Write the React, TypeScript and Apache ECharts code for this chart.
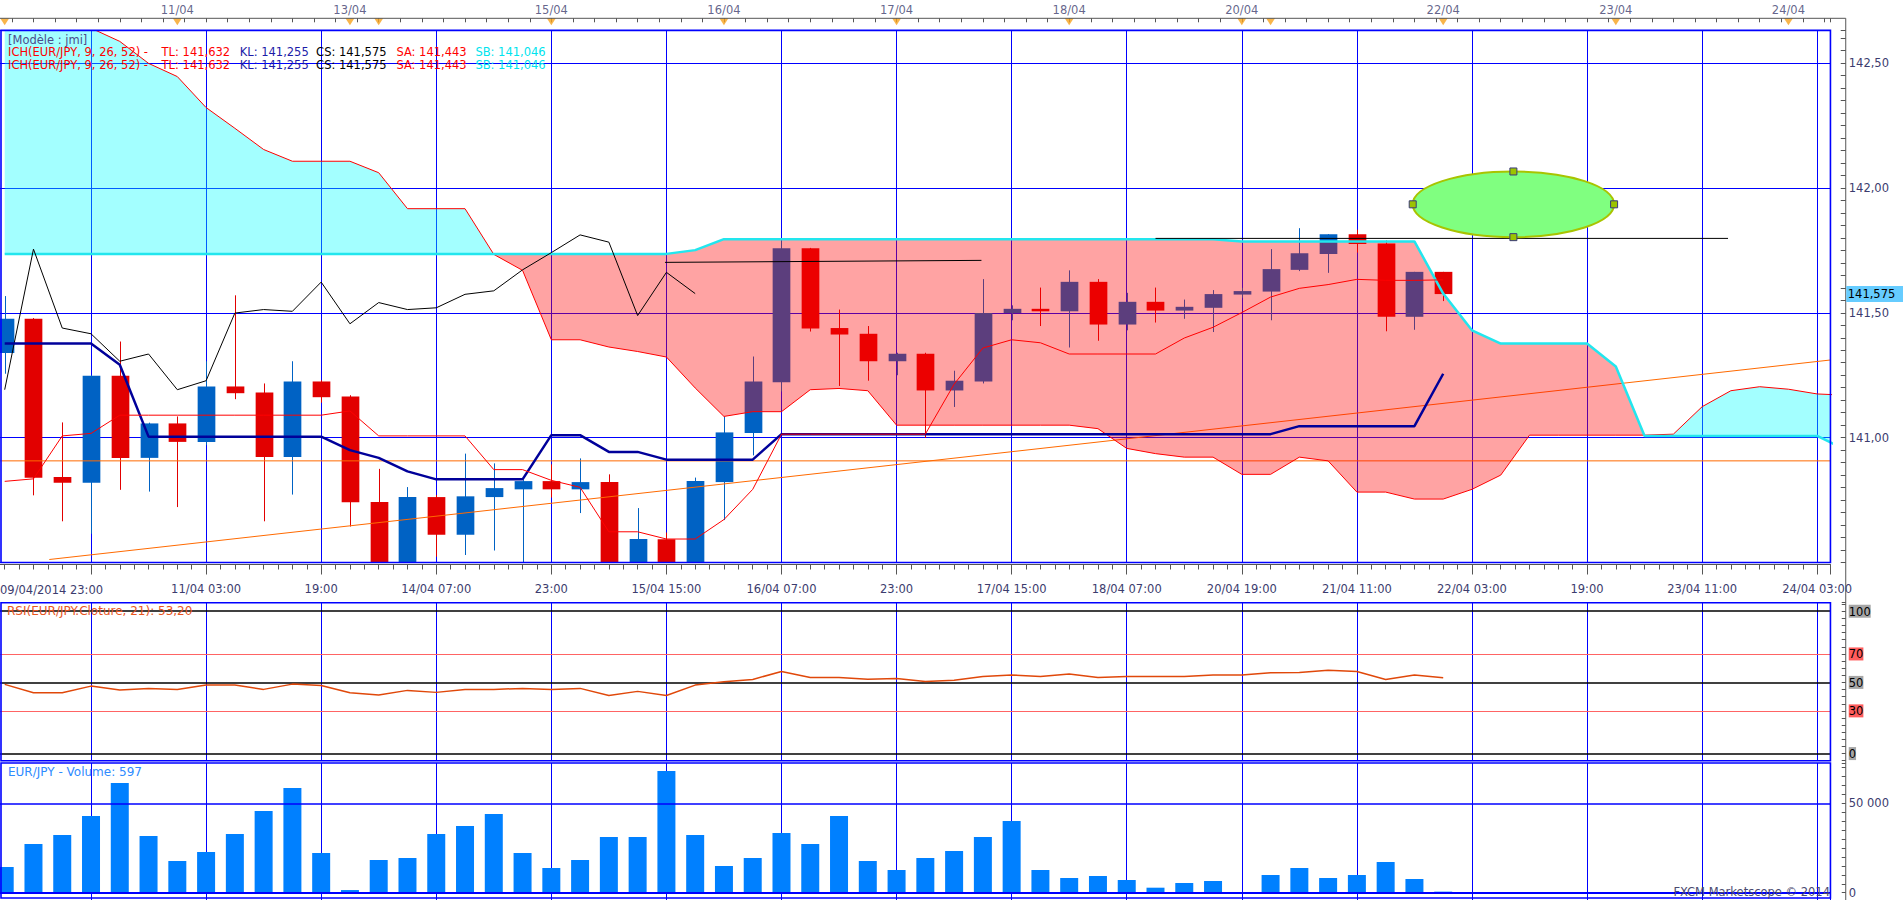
import { useEffect, useRef } from 'react';
import * as echarts from 'echarts';

// ---------------- data ----------------
const opens = [141.339, 141.476, 140.842, 140.819, 141.248, 140.919, 141.057, 140.983, 141.205, 141.181, 140.923, 141.225, 141.165, 140.742, 140.46, 140.762, 140.611, 140.762, 140.793, 140.826, 140.793, 140.822, 140.40, 140.593, 140.30, 140.822, 141.019, 141.222, 141.759, 141.439, 141.416, 141.306, 141.336, 141.189, 141.225, 141.499, 141.516, 141.506, 141.624, 141.453, 141.544, 141.509, 141.520, 141.573, 141.585, 141.672, 141.736, 141.815, 141.778, 141.484, 141.664];
const closes = [141.476, 140.839, 140.819, 141.248, 140.919, 141.057, 140.983, 141.205, 141.178, 140.923, 141.225, 141.162, 140.741, 140.46, 140.762, 140.611, 140.765, 140.798, 140.826, 140.793, 140.822, 140.40, 140.594, 140.30, 140.826, 141.021, 141.225, 141.759, 141.437, 141.413, 141.306, 141.336, 141.189, 141.228, 141.499, 141.516, 141.506, 141.624, 141.453, 141.544, 141.509, 141.524, 141.575, 141.587, 141.675, 141.739, 141.815, 141.776, 141.484, 141.664, 141.575];
const lows = [141.256, 140.769, 140.665, 140.615, 140.791, 140.784, 140.722, 140.970, 141.154, 140.665, 140.772, 141.140, 140.644, 140.40, 140.42, 140.523, 140.530, 140.548, 140.45, 140.760, 140.698, 140.35, 140.30, 140.24, 140.25, 140.670, 140.929, 141.185, 141.425, 141.207, 141.228, 141.250, 141.000, 141.123, 141.217, 141.470, 141.447, 141.361, 141.388, 141.430, 141.461, 141.476, 141.423, 141.560, 141.470, 141.667, 141.660, 141.741, 141.426, 141.432, 141.547];
const highs = [141.567, 141.479, 141.061, 141.250, 141.385, 141.060, 141.085, 141.306, 141.570, 141.217, 141.306, 141.230, 141.170, 140.875, 140.802, 140.770, 140.936, 140.897, 140.830, 140.893, 140.917, 140.853, 140.718, 140.620, 140.840, 141.085, 141.325, 141.790, 141.760, 141.513, 141.447, 141.340, 141.340, 141.268, 141.635, 141.530, 141.601, 141.670, 141.635, 141.580, 141.601, 141.553, 141.591, 141.600, 141.755, 141.839, 141.815, 141.833, 141.790, 141.664, 141.664];

const tenkan = [140.825, 140.835, 141.007, 141.017, 141.090, 141.090, 141.090, 141.090, 141.090, 141.090, 141.090, 141.090, 141.107, 141.007, 141.007, 141.007, 141.007, 140.872, 140.872, 140.829, 140.801, 140.623, 140.623, 140.594, 140.594, 140.672, 140.793, 141.014, 141.014, 141.014, 141.014, 141.014, 141.014, 141.214, 141.359, 141.392, 141.380, 141.335, 141.335, 141.335, 141.335, 141.399, 141.442, 141.501, 141.563, 141.598, 141.613, 141.634, 141.630, 141.630, 141.632];
const kijun = [141.377, 141.377, 141.377, 141.377, 141.292, 141.004, 141.004, 141.004, 141.004, 141.004, 141.004, 141.004, 140.950, 140.919, 140.865, 140.833, 140.833, 140.833, 140.833, 141.010, 141.010, 140.943, 140.943, 140.912, 140.912, 140.912, 140.912, 141.014, 141.014, 141.014, 141.014, 141.014, 141.014, 141.014, 141.014, 141.014, 141.014, 141.014, 141.014, 141.014, 141.014, 141.014, 141.014, 141.014, 141.014, 141.046, 141.046, 141.046, 141.046, 141.046, 141.256];
const chikou = [141.192, 141.755, 141.439, 141.416, 141.306, 141.335, 141.192, 141.228, 141.499, 141.513, 141.506, 141.623, 141.456, 141.541, 141.513, 141.520, 141.574, 141.588, 141.672, 141.741, 141.812, 141.783, 141.489, 141.662, 141.577];
const senkouA = [142.80, 142.75, 142.70, 142.64, 142.587, 142.499, 142.446, 142.322, 142.239, 142.154, 142.107, 142.107, 142.107, 142.061, 141.917, 141.917, 141.917, 141.734, 141.670, 141.392, 141.392, 141.363, 141.345, 141.323, 141.199, 141.085, 141.104, 141.104, 141.192, 141.197, 141.188, 141.050, 141.050, 141.050, 141.050, 141.050, 141.050, 141.050, 141.036, 140.957, 140.936, 140.922, 140.922, 140.853, 140.853, 140.922, 140.907, 140.782, 140.782, 140.754, 140.754, 140.793, 140.850, 141.010, 141.010, 141.010, 141.010, 141.010, 141.014, 141.124, 141.188, 141.204, 141.194, 141.175, 141.17];
const senkouB = [141.736, 141.736, 141.736, 141.736, 141.736, 141.736, 141.736, 141.736, 141.736, 141.736, 141.736, 141.736, 141.736, 141.736, 141.736, 141.736, 141.736, 141.736, 141.736, 141.736, 141.736, 141.736, 141.736, 141.736, 141.751, 141.795, 141.795, 141.795, 141.795, 141.795, 141.795, 141.795, 141.795, 141.795, 141.795, 141.795, 141.795, 141.795, 141.795, 141.795, 141.795, 141.795, 141.795, 141.786, 141.786, 141.786, 141.786, 141.786, 141.786, 141.786, 141.577, 141.430, 141.377, 141.377, 141.377, 141.377, 141.285, 141.007, 141.007, 141.007, 141.007, 141.007, 141.007, 141.007, 140.95];

const rsi = [48.6, 42.7, 42.7, 47.4, 44.6, 45.8, 45.1, 48.1, 48.1, 45.1, 48.8, 47.9, 42.7, 41.1, 44.4, 43.0, 45.1, 45.1, 45.8, 45.1, 45.8, 40.8, 43.7, 40.8, 48.1, 50.5, 52.1, 57.7, 53.5, 53.5, 52.3, 52.8, 50.7, 51.6, 54.2, 55.2, 54.2, 55.9, 53.5, 54.2, 54.2, 54.2, 55.2, 55.2, 56.8, 57.0, 58.5, 57.7, 52.1, 55.2, 53.2];
const rsiLevels = [100, 70, 50, 30, 0];
const volume = [14370, 27240, 32280, 42910, 61380, 31720, 17720, 22760, 32840, 45710, 58580, 22200, 1490, 18280, 19400, 32840, 37310, 44030, 22200, 13810, 18280, 31160, 31160, 68100, 32280, 14930, 19400, 33400, 27240, 42910, 17720, 12690, 19400, 23320, 31160, 40110, 12690, 8210, 9330, 7090, 2800, 5410, 6530, 370, 9890, 13810, 8210, 9890, 17160, 7650, 597];
const volumeLevels = [50000, 0];

const gridTicks = [3, 7, 11, 15, 19, 23, 27, 31, 35, 39, 43, 47, 51, 55, 59, 63];
const bottomLabels = ['', '11/04 03:00', '19:00', '14/04 07:00', '23:00', '15/04 15:00', '16/04 07:00', '23:00', '17/04 15:00', '18/04 07:00', '20/04 19:00', '21/04 11:00', '22/04 03:00', '19:00', '23/04 11:00', '24/04 03:00'];
const firstTimeLabel = '09/04/2014 23:00';
const dayMarks = [0, 6, 12, 13, 19, 25, 31, 37, 43, 44, 50, 56, 62];
const dayLabels = ['', '11/04', '13/04', '', '15/04', '16/04', '17/04', '18/04', '20/04', '', '22/04', '23/04', '24/04'];

const blackLine1 = [[22.95, 141.702], [33.95, 141.71]];
const blackLine2 = [[40.0, 141.798], [59.9, 141.798]];
const orangeTrend = [[1.55, 140.512], [63.46, 141.311]];
const orangeLevel = [[-1, 140.907], [63.46, 140.907]];
const ellipseX = [48.94, 55.94];
const ellipseY = [141.803, 142.066];
const lastClose = 141.575;
const lastCloseText = '141,575';

const modelText = '[Modèle : jmi]';
const legendParts = [
  { text: 'ICH(EUR/JPY, 9, 26, 52) -', color: '#FF0000' },
  { text: 'TL: 141,632', color: '#FF0000' },
  { text: 'KL: 141,255', color: '#1C1CA8' },
  { text: 'CS: 141,575', color: '#000000' },
  { text: 'SA: 141,443', color: '#FF0000' },
  { text: 'SB: 141,046', color: '#00E4EE' },
];
const rsiTitle = 'RSI(EUR/JPY.Cloture, 21): 53,20';
const volumeTitle = 'EUR/JPY - Volume: 597';
const creditText = 'FXCM Marketscope © 2014';

// ---------------- layout / styles ----------------
const CW = 1903;
const S = 28.77; // px per candle
const X0 = 4.7; // px of candle 0
const XMAX = 63.46;
const RIGHT_EDGE = X0 + S * XMAX;
const GR = CW - RIGHT_EDGE;
const leftAt = (m: number) => X0 + S * m;
const AXIS_X = RIGHT_EDGE + 15.3;
const P_TOP = { top: 18.3, h: 12.2 };
const P_MAIN = { top: 30.4, h: 532.1 };
const P_RSI = { top: 602.7, h: 158 };
const P_VOL = { top: 763, h: 138.64 };
const LEGEND_X = [8, 161.6, 239.7, 316.1, 396.4, 475.4];

const FF = '"DejaVu Sans", Verdana, sans-serif';
const FS = 11.5;
const FS_TITLE = 12;
const AXIS_TEXT = '#3C3C6E';
const BLUE = '#0000FF';
const TICK = '#555555';
const UP = '#0062C4';
const DOWN = '#E20000';
const CLOUD_UP = 'rgba(0,255,255,0.36)';
const CLOUD_DOWN = 'rgba(255,0,0,0.36)';

function txt(text: string, x: number, y: number, color: string, size: number, align = 'left') {
  return {
    type: 'text', x, y, z: 60, silent: true,
    style: { text, fill: color, font: `${size}px ${FF}`, align, verticalAlign: 'middle', textAlign: align, textVerticalAlign: 'middle' },
  };
}

function lineSeries(data: number[][], color: string, width: number, z: number, extra: any = {}) {
  return {
    type: 'line', xAxisIndex: 1, yAxisIndex: 1, data, symbol: 'none', silent: true, z,
    lineStyle: { color, width, type: 'solid' }, emphasis: { disabled: true }, ...extra,
  };
}

function buildOption(): any {
  const vSplit = { show: true, lineStyle: { color: BLUE, width: 1, type: 'solid' } };
  const hiddenX = (gi: number) => ({
    type: 'value', gridIndex: gi, min: -1, max: XMAX, interval: 4,
    axisLine: { show: false, onZero: false }, axisTick: { show: false }, axisLabel: { show: false }, splitLine: vSplit,
  });
  const labelAt = (v: number) => {
    for (let k = 0; k < gridTicks.length; k++) if (Math.abs(v - gridTicks[k]) < 1e-6) return bottomLabels[k];
    return '';
  };
  const richBox = { color: '#000', fontSize: FS, fontFamily: FF, lineHeight: 14, padding: [1, 0, 0, 0] };
  const noLine = { show: false, onZero: false };

  const grids = [
    { left: leftAt(-1.25), right: GR, top: P_TOP.top, height: P_TOP.h },
    { left: leftAt(-1), right: GR, top: P_MAIN.top, height: P_MAIN.h },
    { left: leftAt(-1), right: GR, top: P_RSI.top, height: P_RSI.h },
    { left: leftAt(-1), right: GR, top: P_VOL.top, height: P_VOL.h },
  ].map((g) => ({ ...g, containLabel: false, outerBoundsMode: 'none', show: false }));

  const graphics: any[] = [
    { type: 'rect', z: 50, silent: true, shape: { x: 1, y: P_MAIN.top, width: RIGHT_EDGE - 1, height: P_MAIN.h }, style: { fill: 'none', stroke: BLUE, lineWidth: 1.6 } },
    { type: 'rect', z: 50, silent: true, shape: { x: 1, y: P_RSI.top, width: RIGHT_EDGE - 1, height: P_RSI.h }, style: { fill: 'none', stroke: BLUE, lineWidth: 1.6 } },
    { type: 'rect', z: 50, silent: true, shape: { x: 1, y: P_VOL.top, width: RIGHT_EDGE - 1, height: 898 - P_VOL.top }, style: { fill: 'none', stroke: BLUE, lineWidth: 1.6 } },
    { type: 'line', z: 50, silent: true, shape: { x1: 0, y1: P_TOP.top, x2: AXIS_X, y2: P_TOP.top }, style: { stroke: TICK, lineWidth: 1 } },
    { type: 'line', z: 50, silent: true, shape: { x1: AXIS_X, y1: P_TOP.top, x2: AXIS_X, y2: 900 }, style: { stroke: TICK, lineWidth: 1 } },
    txt(modelText, 8, 39.5, '#4B4B8C', FS),
    txt(firstTimeLabel, 0, 589.5, AXIS_TEXT, FS),
    txt(rsiTitle, 7, 611.3, '#E8561E', FS_TITLE),
    txt(volumeTitle, 8, 772.3, '#2E8BFF', FS_TITLE),
    txt(creditText, 1830, 892, '#4A4A70', FS, 'right'),
    { type: 'rect', z: 59, silent: true, shape: { x: AXIS_X + 0.5, y: 0, width: 57, height: 16 }, style: { fill: '#66CCFF' }, id: 'tagbox' },
  ];
  [52.0, 64.8].forEach((y) => legendParts.forEach((p, k) => graphics.push(txt(p.text, LEGEND_X[k], y, p.color, FS))));

  const series: any[] = [
    // day markers (top axis)
    {
      type: 'scatter', xAxisIndex: 0, yAxisIndex: 0, silent: true, z: 5,
      data: dayMarks.map((d) => [d, 0.713]),
      symbol: 'path://M0,0L10,0L5,8Z', symbolSize: [9, 7],
      itemStyle: { color: '#F6A21E' },
      label: { show: true, position: 'top', distance: 2, color: AXIS_TEXT, fontSize: FS, fontFamily: FF, formatter: (p: any) => dayLabels[p.dataIndex] },
      emphasis: { disabled: true },
    },
    // candles
    {
      type: 'custom', xAxisIndex: 1, yAxisIndex: 1, z: 3, clip: true, silent: true,
      data: opens.map((o, i) => [i, o, closes[i], lows[i], highs[i]]),
      encode: { x: 0, y: [1, 2, 3, 4] },
      renderItem: (params: any, api: any) => {
        const i = api.value(0), o = api.value(1), c = api.value(2), l = api.value(3), h = api.value(4);
        const pO = api.coord([i, o]), pC = api.coord([i, c]), pL = api.coord([i, l]), pH = api.coord([i, h]);
        const w = api.size([1, 0])[0] * 0.615;
        const color = c >= o ? UP : DOWN;
        const top = Math.min(pO[1], pC[1]);
        const hh = Math.max(Math.abs(pO[1] - pC[1]), 1.2);
        const x = Math.round(pO[0]) + 0.5;
        return {
          type: 'group',
          children: [
            { type: 'line', shape: { x1: x, y1: pH[1], x2: x, y2: pL[1] }, style: { stroke: color, lineWidth: 1 } },
            { type: 'rect', shape: { x: x - w / 2, y: top, width: w, height: hh }, style: { fill: color } },
          ],
        };
      },
    },
    // orange trend lines
    lineSeries(orangeTrend, '#FF6A00', 1, 3.5),
    lineSeries(orangeLevel, '#FF6A00', 1, 3.5),
    // cloud fill
    {
      type: 'custom', xAxisIndex: 1, yAxisIndex: 1, z: 4, clip: true, silent: true,
      data: [[0, 141.5]],
      renderItem: (params: any, api: any) => {
        const children: any[] = [];
        let runA: number[][] = [];
        let runB: number[][] = [];
        let sign = 0;
        const flush = () => {
          if (runA.length > 1 && sign !== 0) {
            const pts = runA.concat(runB.slice().reverse()).map((p) => api.coord(p));
            children.push({ type: 'polygon', shape: { points: pts }, style: { fill: sign > 0 ? CLOUD_UP : CLOUD_DOWN } });
          }
        };
        for (let k = 0; k < senkouA.length; k++) {
          const a = senkouA[k], b = senkouB[k], d = a - b;
          const s = d > 1e-9 ? 1 : d < -1e-9 ? -1 : 0;
          if (k > 0) {
            const pa = senkouA[k - 1], pd = pa - senkouB[k - 1];
            if (pd * d < 0) {
              const t = pd / (pd - d);
              const xc = k - 1 + t, yc = pa + t * (a - pa);
              runA.push([xc, yc]); runB.push([xc, yc]);
              flush();
              runA = [[xc, yc]]; runB = [[xc, yc]]; sign = s;
            }
          }
          runA.push([k, a]); runB.push([k, b]);
          if (sign === 0) sign = s;
          if (s === 0 && k > 0) { flush(); runA = [[k, a]]; runB = [[k, b]]; sign = 0; }
        }
        flush();
        return { type: 'group', children };
      },
    },
    // ichimoku lines
    lineSeries(senkouA.map((v, i) => [i, v]), '#FF0000', 1, 5),
    lineSeries(senkouB.map((v, i) => [i, v]), '#22E6EE', 2.5, 5),
    lineSeries(chikou.map((v, i) => [i, v]), '#000000', 1, 5),
    lineSeries(kijun.map((v, i) => [i, v]), '#00009A', 2.5, 5),
    lineSeries(tenkan.map((v, i) => [i, v]), '#FF0000', 1, 5.5),
    lineSeries(blackLine1, '#000000', 1, 5),
    lineSeries(blackLine2, '#000000', 1, 5),
    // ellipse annotation
    {
      type: 'custom', xAxisIndex: 1, yAxisIndex: 1, z: 6, clip: true, silent: true,
      data: [[ellipseX[0], ellipseY[0]]],
      renderItem: (params: any, api: any) => {
        const l = api.coord([ellipseX[0], ellipseY[0]]);
        const r = api.coord([ellipseX[1], ellipseY[1]]);
        const cx = (l[0] + r[0]) / 2, cy = (l[1] + r[1]) / 2;
        const rx = Math.abs(r[0] - l[0]) / 2, ry = Math.abs(r[1] - l[1]) / 2;
        const hs = 7;
        const handle = (x: number, y: number) => ({
          type: 'rect', shape: { x: x - hs / 2, y: y - hs / 2, width: hs, height: hs },
          style: { fill: '#9CC400', stroke: '#3A3A7A', lineWidth: 1 },
        });
        return {
          type: 'group',
          children: [
            { type: 'ellipse', shape: { cx, cy, rx, ry }, style: { fill: '#80FF80', stroke: '#A8C400', lineWidth: 2 } },
            handle(cx, cy - ry), handle(cx, cy + ry), handle(cx - rx, cy), handle(cx + rx, cy),
          ],
        };
      },
    },
    // RSI
    {
      type: 'line', xAxisIndex: 2, yAxisIndex: 3, data: rsi.map((v, i) => [i, v]), symbol: 'none', silent: true, z: 5,
      lineStyle: { color: '#E0480A', width: 1.5 }, emphasis: { disabled: true },
      markLine: {
        silent: true, symbol: ['none', 'none'], label: { show: false },
        data: rsiLevels.map((lv) => ({ yAxis: lv, lineStyle: { color: lv === 70 || lv === 30 ? '#FF6464' : '#000000', width: lv === 70 || lv === 30 ? 1 : 1.5, type: 'solid' } })),
      },
    },
    // Volume
    {
      type: 'bar', xAxisIndex: 3, yAxisIndex: 4, data: volume.map((v, i) => [i, v]), barWidth: 18, silent: true, z: 3,
      itemStyle: { color: '#0080FF' }, emphasis: { disabled: true },
      markLine: {
        silent: true, symbol: ['none', 'none'], label: { show: false },
        data: volumeLevels.map((lv) => ({ yAxis: lv, lineStyle: { color: BLUE, width: lv === 0 ? 2 : 1.5, type: 'solid' } })),
      },
    },
  ];

  return {
    animation: false,
    backgroundColor: '#FFFFFF',
    grid: grids,
    xAxis: [
      {
        type: 'value', gridIndex: 0, position: 'top', min: -1.25, max: XMAX, interval: 0.75,
        axisLine: noLine, axisTick: { show: true, inside: true, length: 4, lineStyle: { color: TICK } },
        axisLabel: { show: false }, splitLine: { show: false },
      },
      {
        type: 'value', gridIndex: 1, position: 'bottom', offset: 2, min: -1, max: XMAX, interval: 4,
        axisLine: { show: true, onZero: false, lineStyle: { color: TICK, width: 1 } },
        axisTick: { show: true, length: 10, lineStyle: { color: TICK } },
        axisLabel: { show: true, margin: 18, color: AXIS_TEXT, fontSize: FS, fontFamily: FF, hideOverlap: false, formatter: labelAt },
        splitLine: vSplit,
      },
      hiddenX(2),
      hiddenX(3),
      {
        type: 'value', gridIndex: 1, position: 'bottom', offset: 2, min: -1, max: XMAX, interval: 0.5,
        axisLine: noLine, axisTick: { show: true, length: 5, lineStyle: { color: TICK } },
        axisLabel: { show: false }, splitLine: { show: false },
      },
    ],
    yAxis: [
      { type: 'value', gridIndex: 0, min: 0, max: 1, show: false, axisLine: noLine },
      {
        type: 'value', gridIndex: 1, position: 'right', offset: 15.3, min: 140.5, max: 142.631, interval: 0.05,
        axisLine: noLine, axisTick: { show: true, inside: true, length: 5, lineStyle: { color: TICK } },
        splitLine: { show: false },
        axisLabel: {
          show: true, margin: 3, color: AXIS_TEXT, fontSize: FS, fontFamily: FF, hideOverlap: false,
          formatter: (v: number) => (Math.abs(v * 2 - Math.round(v * 2)) < 1e-6 && v > 140.9 && v < 142.55 ? v.toFixed(2).replace('.', ',') : ''),
        },
      },
      {
        type: 'value', gridIndex: 1, position: 'left', min: 140.5, max: 142.631, interval: 0.5,
        axisLine: noLine, axisTick: { show: false }, axisLabel: { show: false },
        splitLine: { show: true, lineStyle: { color: BLUE, width: 1, type: 'solid' } },
      },
      {
        type: 'value', gridIndex: 2, position: 'right', offset: 15.3, min: -5, max: 106, interval: 5,
        axisLine: noLine, axisTick: { show: true, inside: true, length: 4, lineStyle: { color: TICK } },
        splitLine: { show: false },
        axisLabel: {
          show: true, margin: 3, hideOverlap: false,
          formatter: (v: number) => {
            const r = Math.round(v);
            if (Math.abs(v - r) > 1e-6) return '';
            if (r === 100 || r === 50 || r === 0) return `{g|${r}}`;
            if (r === 70 || r === 30) return `{r|${r}}`;
            return '';
          },
          rich: { g: { ...richBox, backgroundColor: '#A6A6A6' }, r: { ...richBox, backgroundColor: '#FF5C5C' } },
        },
      },
      {
        type: 'value', gridIndex: 3, position: 'right', offset: 15.3, min: -5000, max: 72539, interval: 5000,
        axisLine: noLine, axisTick: { show: true, inside: true, length: 4, lineStyle: { color: TICK } },
        splitLine: { show: false },
        axisLabel: {
          show: true, margin: 3, color: AXIS_TEXT, fontSize: FS, fontFamily: FF, hideOverlap: false,
          formatter: (v: number) => (Math.abs(v - 50000) < 1e-6 ? '50 000' : Math.abs(v) < 1e-6 ? '0' : ''),
        },
      },
    ],
    graphic: { elements: graphics },
    series,
  };
}

export default function App() {
  const ref = useRef<HTMLDivElement>(null);
  useEffect(() => {
    document.body.style.margin = '0';
    const chart = echarts.init(ref.current as HTMLDivElement, null, { renderer: 'svg' });
    chart.setOption(buildOption());
    // place the last-price tag through the price scale
    const py = chart.convertToPixel({ gridIndex: 1 } as any, [0, lastClose]) as any;
    const yPix = Array.isArray(py) ? py[1] : 0;
    chart.setOption({
      graphic: {
        elements: [
          { id: 'tagbox', type: 'rect', z: 59, silent: true, shape: { x: AXIS_X + 0.5, y: yPix - 8, width: 57, height: 16 }, style: { fill: '#66CCFF' } },
          { id: 'tagtext', type: 'text', z: 60, silent: true, x: AXIS_X + 2, y: yPix, style: { text: lastCloseText, fill: '#000', font: `${FS}px ${FF}`, align: 'left', verticalAlign: 'middle', textAlign: 'left', textVerticalAlign: 'middle' } },
        ],
      },
    });
    return () => chart.dispose();
  }, []);
  return <div ref={ref} style={{ position: 'absolute', left: 0, top: 0, width: 1903, height: 900, background: '#fff' }} />;
}
